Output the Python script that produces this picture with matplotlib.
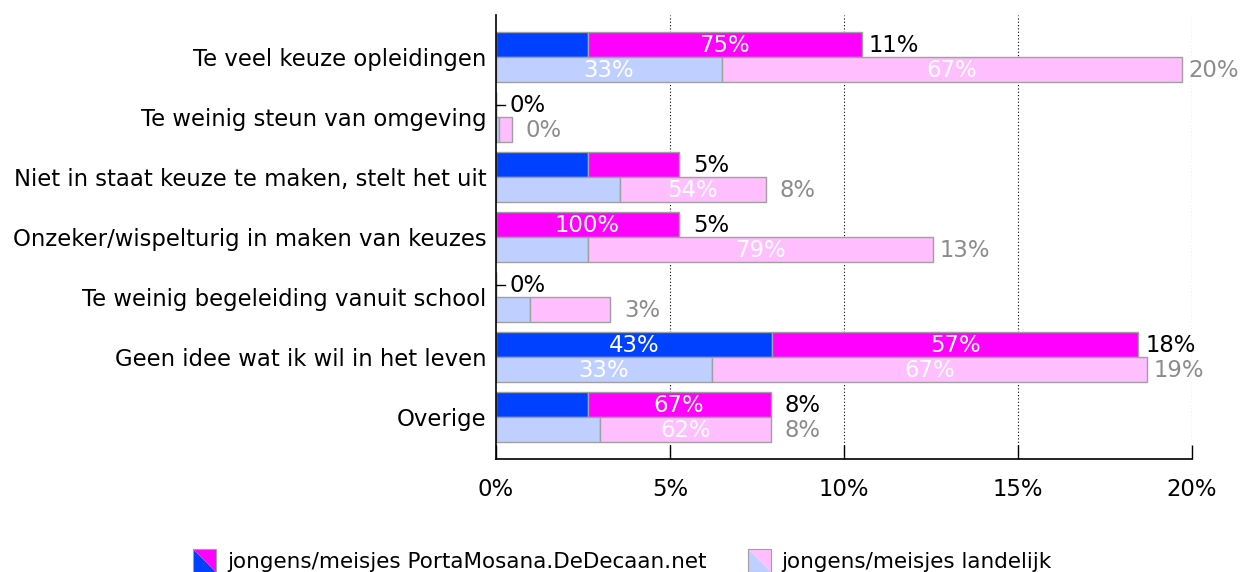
import matplotlib.pyplot as plt
from matplotlib.patches import Polygon
from matplotlib.legend_handler import HandlerBase
from matplotlib.ticker import FuncFormatter

# DATA (percentage of respondents)
categories = ['Te veel keuze opleidingen', 'Te weinig steun van omgeving',
              'Niet in staat keuze te maken, stelt het uit', 'Onzeker/wispelturig in maken van keuzes',
              'Te weinig begeleiding vanuit school', 'Geen idee wat ik wil in het leven', 'Overige']
school_boys = [2.63, 0.0, 2.63, 0.0, 0.0, 7.93, 2.63]
school_girls = [7.89, 0.0, 2.63, 5.26, 0.0, 10.53, 5.26]
land_boys = [6.5, 0.1, 3.55, 2.65, 0.98, 6.2, 3.0]
land_girls = [13.2, 0.35, 4.2, 9.9, 2.3, 12.5, 4.9]
xticks = [0, 5, 10, 15, 20]
legend_labels = ['jongens/meisjes PortaMosana.DeDecaan.net', 'jongens/meisjes landelijk']

# colours
c_sb, c_sg = '#0040ff', '#ff00ff'
c_lb, c_lg = '#bfcfff', '#ffbfff'
edge = '#a0a0a0'
FS = 16.4
LFS = 15.5


class SplitSwatch:
    def __init__(self, c_low, c_up):
        self.c_low = c_low
        self.c_up = c_up


class SplitHandler(HandlerBase):
    # square split along the diagonal: lower-left / upper-right
    def create_artists(self, legend, h, xd, yd, width, height, fontsize, trans):
        s = 16.6
        x0 = -xd + (width - s) / 2
        y0 = -yd + (height - s) / 2
        low = Polygon([(x0, y0 + s), (x0, y0), (x0 + s, y0)], closed=True,
                      facecolor=h.c_low, edgecolor='none', transform=trans)
        up = Polygon([(x0, y0 + s), (x0 + s, y0 + s), (x0 + s, y0)], closed=True,
                     facecolor=h.c_up, edgecolor='none', transform=trans)
        box = Polygon([(x0, y0), (x0, y0 + s), (x0 + s, y0 + s), (x0 + s, y0)], closed=True,
                      facecolor='none', edgecolor=edge, linewidth=0.8, transform=trans)
        return [low, up, box]


fig = plt.figure(figsize=(12.45, 5.72), dpi=100)
ax = fig.add_axes([0.3984, 0.1976, 0.9574 - 0.3984, 0.9738 - 0.1976])

h = 0.415
pos = list(range(len(categories)))
y_top = [p - h / 2 for p in pos]
y_bot = [p + h / 2 for p in pos]

ax.barh(y_top, school_boys, height=h, color=c_sb, edgecolor=edge, linewidth=1)
ax.barh(y_top, school_girls, left=school_boys, height=h, color=c_sg, edgecolor=edge, linewidth=1)
ax.barh(y_bot, land_boys, height=h, color=c_lb, edgecolor=edge, linewidth=1)
ax.barh(y_bot, land_girls, left=land_boys, height=h, color=c_lg, edgecolor=edge, linewidth=1)


def label_row(y, boys, girls, color_total):
    for i in range(len(y)):
        tot = boys[i] + girls[i]
        # share labels inside the bar
        if tot > 0:
            for left, val in ((0, boys[i]), (boys[i], girls[i])):
                if val > 4:
                    ax.text(left + val / 2, y[i] + 0.01, f'{round(val / tot * 100):.0f}%',
                            ha='center', va='center', color='white', fontsize=FS)
        else:
            ax.plot([0, 0.26], [y[i], y[i]], color='black', linewidth=1, clip_on=False)
        ax.annotate(f'{round(tot):.0f}%', (tot, y[i] + 0.01), xytext=(32, 0),
                    textcoords='offset pixels', ha='center', va='center',
                    color=color_total, fontsize=FS, annotation_clip=False)


label_row(y_top, school_boys, school_girls, 'black')
label_row(y_bot, land_boys, land_girls, '#8c8c8c')

ax.set_xlim(0, 20)
ax.set_ylim(len(categories) - 0.3, -0.7)
ax.set_yticks(pos)
ax.set_yticklabels(categories, fontsize=FS)
ax.tick_params(axis='y', length=0, pad=7)
ax.set_xticks(xticks)
ax.xaxis.set_major_formatter(FuncFormatter(lambda v, p: f'{v:.0f}%'))
ax.tick_params(axis='x', direction='in', length=10, width=1, pad=14, labelsize=FS)
for t in xticks[1:]:
    ax.axvline(t, color='black', linestyle=(0, (1, 2)), linewidth=0.8, zorder=0)
for s in ('top', 'right'):
    ax.spines[s].set_visible(False)
ax.spines['left'].set_linewidth(1.2)
ax.spines['bottom'].set_linewidth(1.2)

handles = [SplitSwatch(c_sb, c_sg), SplitSwatch(c_lb, c_lg)]
fig.legend(handles, legend_labels, handler_map={SplitSwatch: SplitHandler()},
           loc='center', bbox_to_anchor=(0.5, 0.018), ncol=2, frameon=False,
           fontsize=LFS, handlelength=1.07, handletextpad=0.5, columnspacing=1.9)

fig.savefig('out.png', dpi=100)
